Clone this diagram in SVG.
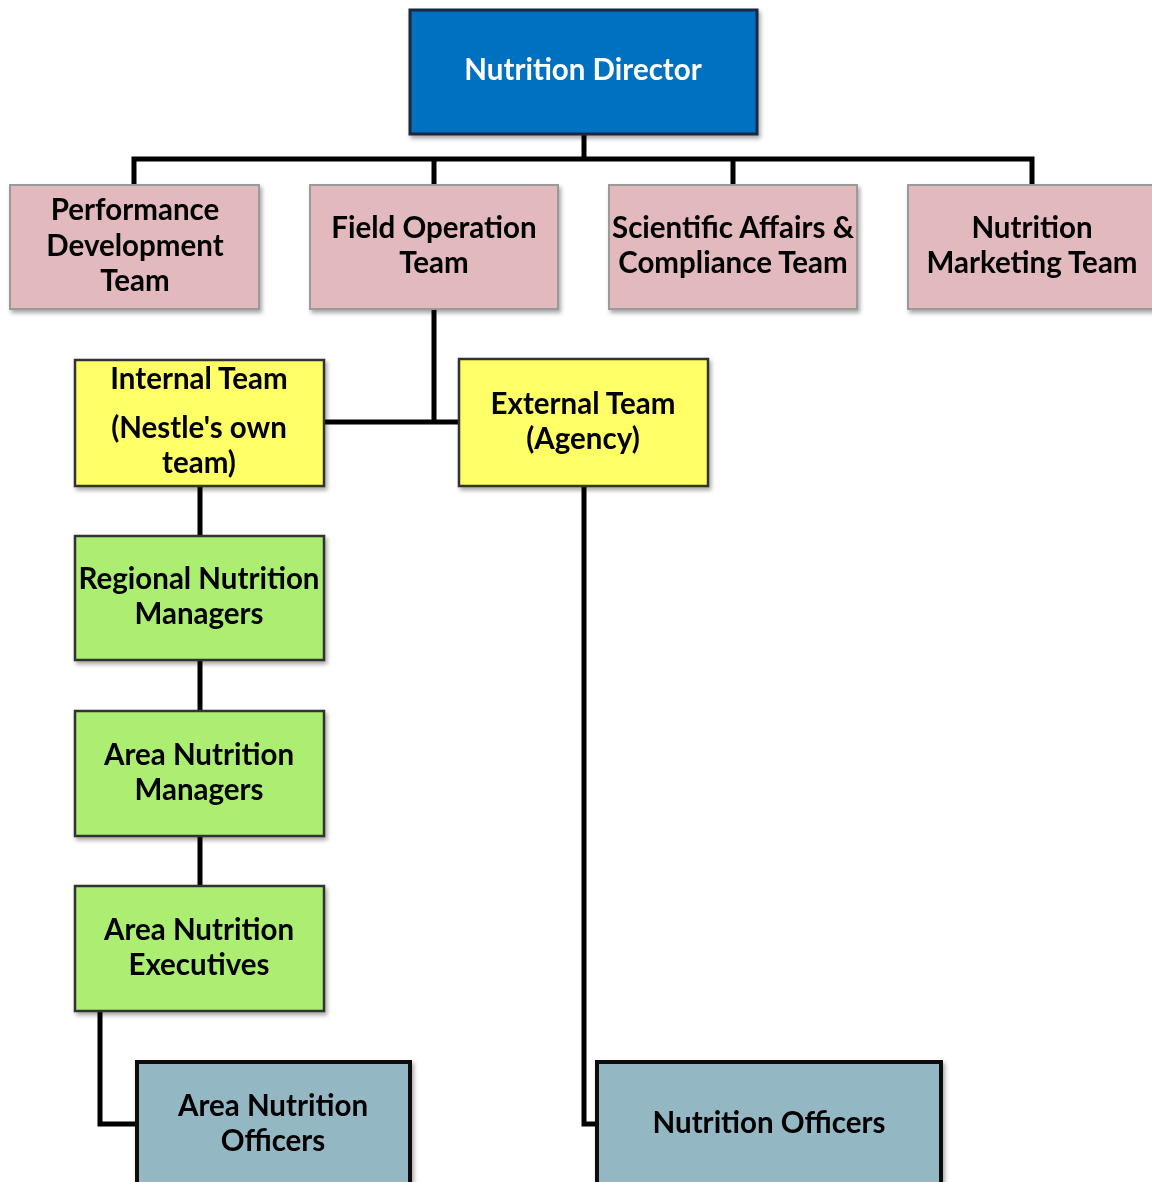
<svg xmlns="http://www.w3.org/2000/svg" width="1152" height="1182" viewBox="0 0 1152 1182">
<style>
text{font-family:Lato,"Open Sans","Liberation Sans",sans-serif;font-weight:bold;font-size:29.5px;text-anchor:middle;fill:#000}
.conn{fill:none;stroke:#000;stroke-width:5;stroke-linejoin:miter}
.dir{fill:#0070C0;stroke:#1b2840;stroke-width:3}
.pink{fill:#E2B9BC;stroke:#9a9a9a;stroke-width:2}
.yel{fill:#FFFF66;stroke:#333;stroke-width:2.5}
.grn{fill:#ABEE72;stroke:#333;stroke-width:2.5}
.blu{fill:#93B8C3;stroke:#111;stroke-width:4}
</style>
<defs>
<filter id="sh" x="-10%" y="-10%" width="125%" height="125%">
<feDropShadow dx="2" dy="3" stdDeviation="2" flood-color="#000" flood-opacity="0.35"/>
</filter>
</defs>
<g id="connectors">
<path class="conn" d="M584 134V159M134 185V159H1032V185M434 159V185M733 159V185"/>
<path class="conn" d="M434 309V422M324 422H459"/>
<path class="conn" d="M200 486V536M200 660V711M200 836V886"/>
<path class="conn" d="M100 1011V1124H137"/>
<path class="conn" d="M584 486V1124H597"/>
</g>
<g id="director" filter="url(#sh)"><rect class="dir" x="410" y="10" width="347" height="124"/><text x="583" y="80" style="fill:#fff">Nutrition Director</text></g>
<g id="perf" filter="url(#sh)"><rect class="pink" x="10" y="185" width="249" height="124"/><text x="135" y="220">Performance</text><text x="135" y="256">Development</text><text x="135" y="291">Team</text></g>
<g id="field" filter="url(#sh)"><rect class="pink" x="310" y="185" width="248" height="124"/><text x="434" y="238">Field Operation</text><text x="434" y="273">Team</text></g>
<g id="sci" filter="url(#sh)"><rect class="pink" x="609" y="185" width="248" height="124"/><text x="733" y="238">Scientific Affairs &amp;</text><text x="733" y="273">Compliance Team</text></g>
<g id="mkt" filter="url(#sh)"><rect class="pink" x="908" y="185" width="250" height="124"/><text x="1032" y="238">Nutrition</text><text x="1032" y="273">Marketing Team</text></g>
<g id="internal" filter="url(#sh)"><rect class="yel" x="75" y="360" width="249" height="126"/><text x="199" y="389">Internal Team</text><text x="199" y="438">(Nestle's own</text><text x="199" y="473">team)</text></g>
<g id="external" filter="url(#sh)"><rect class="yel" x="459" y="359" width="249" height="127"/><text x="583" y="414">External Team</text><text x="583" y="449">(Agency)</text></g>
<g id="regional" filter="url(#sh)"><rect class="grn" x="75" y="536" width="249" height="124"/><text x="199" y="589">Regional Nutrition</text><text x="199" y="624">Managers</text></g>
<g id="areamgr" filter="url(#sh)"><rect class="grn" x="75" y="711" width="249" height="125"/><text x="199" y="765">Area Nutrition</text><text x="199" y="800">Managers</text></g>
<g id="areaexec" filter="url(#sh)"><rect class="grn" x="75" y="886" width="249" height="125"/><text x="199" y="940">Area Nutrition</text><text x="199" y="975">Executives</text></g>
<g id="areaoff" filter="url(#sh)"><rect class="blu" x="137" y="1062" width="273" height="130"/><text x="273" y="1116">Area Nutrition</text><text x="273" y="1151">Officers</text></g>
<g id="nutoff" filter="url(#sh)"><rect class="blu" x="597" y="1062" width="344" height="130"/><text x="769" y="1133">Nutrition Officers</text></g>
</svg>
